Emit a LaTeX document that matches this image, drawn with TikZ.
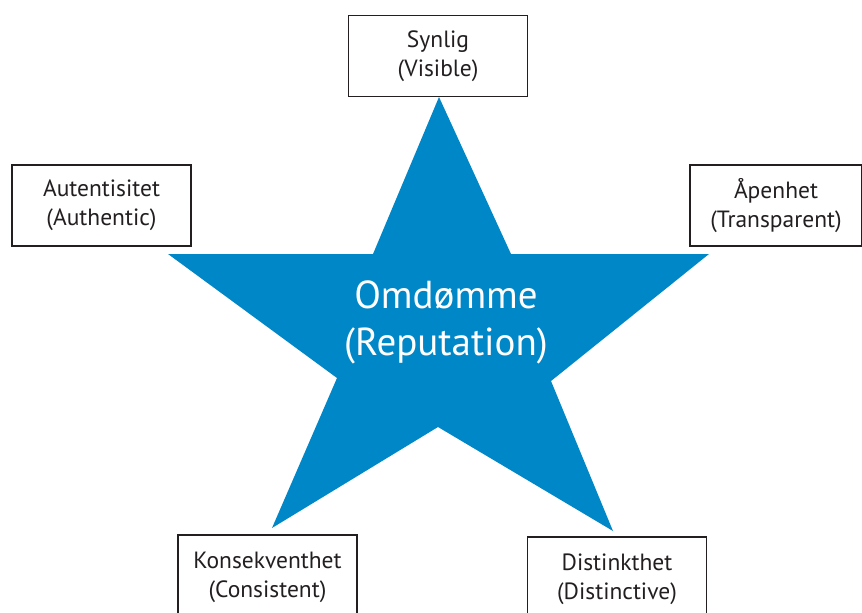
\documentclass[tikz,border=0pt]{standalone}
\usepackage{fontspec}
\setmainfont{PT Sans}
\definecolor{starblue}{RGB}{0,135,200}
\definecolor{ink}{RGB}{35,31,32}
\begin{document}
\begin{tikzpicture}[x=1pt,y=-1pt,
  labelbox/.style={draw=ink,line width=1.6pt,fill=white,minimum width=179pt,minimum height=81pt,
    align=center,font=\fontsize{23.5}{29}\selectfont,text=ink,inner sep=0pt},
  centretext/.style={align=center,text=white,font=\fontsize{39}{47}\selectfont,inner sep=0pt}]
\useasboundingbox (0,0) rectangle (862,613);
\clip (0,0) rectangle (862,613);
% star
\fill[starblue] (439,97) -- (511,254) -- (709,254) -- (551,381) -- (613,531)
  -- (438,427) -- (272,528) -- (337,378) -- (168,254) -- (373,254) -- cycle;
\node[centretext] (omd) at (446,322) {Omdømme\\(Reputation)};
% boxes
\node[labelbox] (syn) at (438,56) {Synlig\\(Visible)};
\node[labelbox] (aut) at (101.5,205.5) {Autentisitet\\(Authentic)};
\node[labelbox,minimum width=172pt] (ape) at (776,205.5) {Åpenhet\\(Transparent)};
\node[labelbox,minimum height=84pt] (kon) at (267.5,577) {Konsekventhet\\(Consistent)};
\node[labelbox,minimum height=84pt] (dis) at (617,579) {Distinkthet\\(Distinctive)};
\end{tikzpicture}
\end{document}
